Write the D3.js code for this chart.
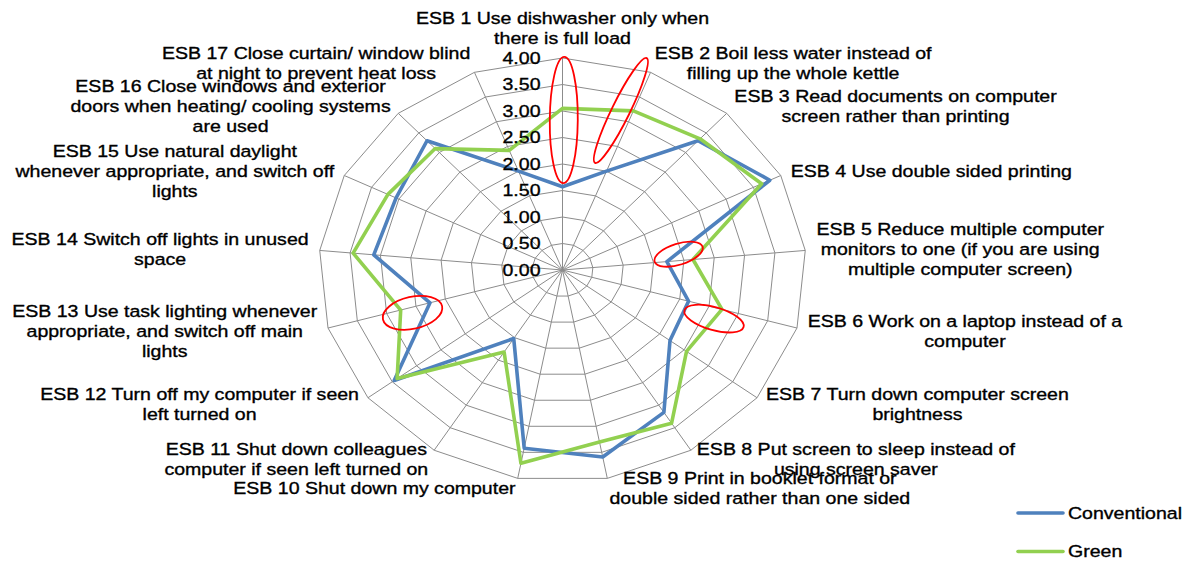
<!DOCTYPE html>
<html>
<head>
<meta charset="utf-8">
<script src="https://cdn.jsdelivr.net/npm/d3@7"></script>
<style>
  html, body { margin: 0; padding: 0; background: #fff; }
  svg { display: block; }
  text { font-family: "Liberation Sans", Arial, sans-serif; fill: #000; stroke: #000; stroke-width: 0.35px; }
</style>
</head>
<body>
<svg id="chart" width="1192" height="561"></svg>
<script>
// Survey items (each "\n" is a line break in the label)
const categories = [
  "ESB 1 Use dishwasher only when\nthere is full load",
  "ESB 2 Boil less water instead of\nfilling up the whole kettle",
  "ESB 3 Read documents on computer\nscreen rather than printing",
  "ESB 4 Use double sided printing",
  "ESB 5 Reduce multiple computer\nmonitors to one (if you are using\nmultiple computer screen)",
  "ESB 6 Work on a laptop instead of a\ncomputer",
  "ESB 7 Turn down computer screen\nbrightness",
  "ESB 8 Put screen to sleep instead of\nusing screen saver",
  "ESB 9 Print in booklet format or\ndouble sided rather than one sided",
  "ESB 10 Shut down my computer",
  "ESB 11 Shut down colleagues\ncomputer if seen left turned on",
  "ESB 12 Turn off my computer if seen\nleft turned on",
  "ESB 13 Use task lighting whenever\nappropriate, and switch off main\nlights",
  "ESB 14 Switch off lights in unused\nspace",
  "ESB 15 Use natural daylight\nwhenever appropriate, and switch off\nlights",
  "ESB 16 Close windows and exterior\ndoors when heating/ cooling systems\nare used",
  "ESB 17 Close curtain/ window blind\nat night to prevent heat loss"
];

// Mean scores per item
const conventional = [1.57, 2.00, 3.30, 3.80, 1.72, 2.15, 2.21, 3.16, 3.59, 3.42, 1.52, 3.46, 2.26, 3.11, 3.05, 3.30, 2.00];
const green        = [3.05, 3.22, 3.35, 3.65, 2.15, 2.72, 2.55, 3.40, 3.30, 3.71, 1.82, 3.40, 2.76, 3.45, 3.20, 3.10, 2.42];

const seriesNames = ["Conventional", "Green"];
const tickValues = [0, 0.5, 1, 1.5, 2, 2.5, 3, 3.5, 4];

// Highlighted item ranges: [axis position, value] at each end, plus half thickness
const highlights = [
  { from: [0.02, 1.64], to: [0.02, 4.02], half: 14 },
  { from: [0.70, 2.09], to: [0.90, 4.23], half: 9 },
  { from: [3.97, 1.52], to: [3.74, 2.34], half: 10.5 },
  { from: [5.23, 2.14], to: [5.19, 3.16], half: 11.5 },
  { from: [11.92, 3.09], to: [11.85, 2.09], half: 16 }
];

const svg = d3.select("#chart");
const cx = 562.5, cy = 270, R = 212, sx = 1.15;
const FONT = 17, LINE_H = 20;

const n = categories.length;
const r = d3.scaleLinear().domain([0, 4]).range([0, R]);
const angle = d3.scaleLinear().domain([0, n]).range([0, 2 * Math.PI]);

const px = (i, v) => cx + sx * r(v) * Math.sin(angle(i));
const py = (i, v) => cy - r(v) * Math.cos(angle(i));

const idx = d3.range(n);
const grid = svg.append("g").attr("class", "grid");

// Concentric polygon rings
tickValues.filter(t => t > 0).forEach(t => {
  grid.append("path")
    .attr("d", d3.line()(idx.map(i => [px(i, t), py(i, t)])) + "Z")
    .attr("fill", "none").attr("stroke", "#8c8c8c").attr("stroke-width", 1);
});

// Spokes
grid.selectAll("line.spoke").data(idx).join("line")
  .attr("class", "spoke")
  .attr("x1", cx).attr("y1", cy)
  .attr("x2", i => px(i, 4)).attr("y2", i => py(i, 4))
  .attr("stroke", "#8c8c8c").attr("stroke-width", 1);

// Series lines
const colors = ["#4F81BD", "#92D050"];
const lineGen = d3.line().x(d => px(d.i, d.v)).y(d => py(d.i, d.v)).curve(d3.curveLinearClosed);
[conventional, green].forEach((vals, s) => {
  svg.append("path")
    .attr("d", lineGen(vals.map((v, i) => ({ i, v }))))
    .attr("fill", "none")
    .attr("stroke", colors[s])
    .attr("stroke-width", 3.6)
    .attr("stroke-linejoin", "round");
});

// Radial axis tick labels (left of the first spoke)
svg.append("g").selectAll("text").data(tickValues).join("text")
  .attr("transform", t => `translate(${cx - 22},${cy - r(t)}) scale(${sx},1)`)
  .attr("text-anchor", "end")
  .attr("dy", "0.35em")
  .attr("font-size", FONT)
  .text(t => d3.format(".2f")(t));

// Category labels, placed just outside the outer ring
const labels = svg.append("g");
idx.forEach(i => {
  const a = angle(i), s = Math.sin(a), c = Math.cos(a);
  const vx = px(i, 4), vy = py(i, 4);
  const lines = categories[i].split("\n");
  const g = labels.append("g");
  const texts = lines.map(l => g.append("text")
    .attr("text-anchor", "middle").attr("dy", "0.35em")
    .attr("font-size", FONT).text(l));
  const w = d3.max(texts, t => t.node().getComputedTextLength()) * sx;
  const h = lines.length * LINE_H;
  let bx, by;
  if (Math.abs(s) < 0.05) {
    bx = vx; by = vy - h / 2 - 10;
  } else if (s > 0) {
    bx = vx + 11 * s + w / 2; by = vy - 10 * c;
  } else {
    bx = vx + 11 * s - w / 2; by = vy - 10 * c;
  }
  texts.forEach((t, k) => {
    const ly = by - h / 2 + LINE_H / 2 + k * LINE_H;
    t.attr("transform", `translate(${bx},${ly}) scale(${sx},1)`);
  });
});

// Highlight ellipses
const hl = svg.append("g");
highlights.forEach(hd => {
  const x1 = px(hd.from[0], hd.from[1]), y1 = py(hd.from[0], hd.from[1]);
  const x2 = px(hd.to[0], hd.to[1]), y2 = py(hd.to[0], hd.to[1]);
  const mx = (x1 + x2) / 2, my = (y1 + y2) / 2;
  const len = Math.hypot(x2 - x1, y2 - y1) / 2;
  const rot = Math.atan2(y2 - y1, x2 - x1) * 180 / Math.PI;
  hl.append("ellipse")
    .attr("cx", 0).attr("cy", 0)
    .attr("rx", len).attr("ry", hd.half)
    .attr("transform", `translate(${mx},${my}) rotate(${rot})`)
    .attr("fill", "none").attr("stroke", "#FF0000").attr("stroke-width", 1.8);
});

// Legend
const legend = svg.append("g");
seriesNames.forEach((name, s) => {
  const y = 513 + s * 38.5;
  legend.append("line")
    .attr("x1", 1018).attr("x2", 1063).attr("y1", y).attr("y2", y)
    .attr("stroke", colors[s]).attr("stroke-width", 3.6).attr("stroke-linecap", "round");
  legend.append("text")
    .attr("transform", `translate(1068,${y}) scale(${sx},1)`)
    .attr("dy", "0.35em").attr("font-size", FONT).text(name);
});
</script>
</body>
</html>
